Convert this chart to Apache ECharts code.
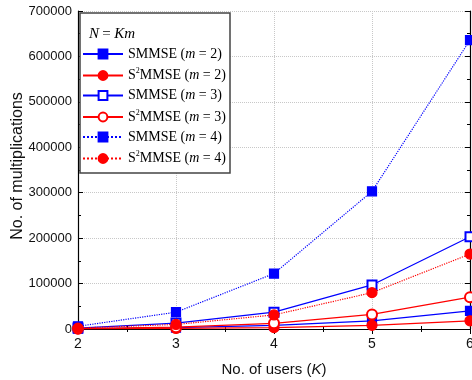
<!DOCTYPE html>
<html>
<head>
<meta charset="utf-8">
<script src="https://cdn.jsdelivr.net/npm/echarts@6/dist/echarts.min.js"></script>
<style>
  html, body { margin: 0; padding: 0; background: #fff; }
  #chart { width: 472px; height: 380px; }
</style>
</head>
<body>
<div id="chart"></div>
<script>
const users = [2, 3, 4, 5, 6];
const smmseM2 = [600, 3000, 8000, 18000, 40000];
const s2mmseM2 = [300, 1200, 3000, 8000, 18000];
const smmseM3 = [2000, 13000, 37000, 97000, 203000];
const s2mmseM3 = [800, 4000, 12500, 32000, 70000];
const smmseM4 = [6000, 37000, 122000, 303000, 636000];
const s2mmseM4 = [2000, 10000, 31000, 80000, 165000];

const chart = echarts.init(document.getElementById('chart'));

function pairs(ys) {
  return users.map((x, i) => [x, ys[i]]);
}

const legendLabels = {
  'SMMSE (m = 2)': '{n|SMMSE (}{i|m}{n| = 2)}',
  'S2MMSE (m = 2)': '{n|S}{s|2}{n|MMSE (}{i|m}{n| = 2)}',
  'SMMSE (m = 3)': '{n|SMMSE (}{i|m}{n| = 3)}',
  'S2MMSE (m = 3)': '{n|S}{s|2}{n|MMSE (}{i|m}{n| = 3)}',
  'SMMSE (m = 4)': '{n|SMMSE (}{i|m}{n| = 4)}',
  'S2MMSE (m = 4)': '{n|S}{s|2}{n|MMSE (}{i|m}{n| = 4)}'
};

function line(name, ys, color, symbol, dotted) {
  return {
    name: name,
    type: 'line',
    data: pairs(ys),
    symbol: symbol,
    symbolSize: symbol.indexOf('ircle') >= 0 ? 10 : 9,
    itemStyle: { color: color, borderColor: color, borderWidth: 1.2 },
    lineStyle: { color: color, width: 1.2, type: dotted ? 'dotted' : 'solid' },
    emphasis: { disabled: true },
    z: 3
  };
}

const option = {
  backgroundColor: '#fff',
  animation: false,
  grid: { left: 78, right: 2, top: 11, bottom: 51, outerBoundsMode: 'none', containLabel: false },
  xAxis: [{
    type: 'value',
    min: 2,
    max: 6,
    interval: 1,
    name: '{a|No. of users (}{b|K}{a|)}',
    nameLocation: 'middle',
    nameGap: 33,
    nameTextStyle: {
      rich: {
        a: { fontFamily: 'Liberation Sans', fontSize: 15, color: '#111' },
        b: { fontFamily: 'Liberation Sans', fontSize: 15, fontStyle: 'italic', color: '#111' }
      }
    },
    axisLine: { lineStyle: { color: '#000', width: 1.2 } },
    axisTick: { inside: true, length: 5, lineStyle: { color: '#000' } },
    minorTick: { show: true, splitNumber: 2, length: 3, lineStyle: { color: '#000' } },
    axisLabel: { fontFamily: 'Liberation Sans', fontSize: 14, color: '#111', margin: 8 },
    splitLine: { show: true, lineStyle: { color: '#c8c8c8', type: 'dotted' } }
  }, {
    type: 'value',
    position: 'top',
    min: 2,
    max: 6,
    interval: 1,
    axisLine: { show: true, lineStyle: { color: '#000', width: 1.2 } },
    axisTick: { inside: true, length: 5, lineStyle: { color: '#000' } },
    minorTick: { show: true, splitNumber: 2, length: 3, lineStyle: { color: '#000' } },
    axisLabel: { show: false },
    splitLine: { show: false }
  }],
  yAxis: [{
    type: 'value',
    min: 0,
    max: 700000,
    interval: 100000,
    axisLine: { show: true, lineStyle: { color: '#000', width: 1.2 } },
    axisTick: { inside: true, length: 5, lineStyle: { color: '#000' } },
    minorTick: { show: true, splitNumber: 2, length: 3, lineStyle: { color: '#000' } },
    axisLabel: { fontFamily: 'Liberation Sans', fontSize: 13, color: '#111', margin: 6, formatter: v => String(v) },
    splitLine: { show: true, lineStyle: { color: '#c8c8c8', type: 'dotted' } }
  }, {
    type: 'value',
    position: 'right',
    min: 0,
    max: 700000,
    interval: 100000,
    axisLine: { show: true, lineStyle: { color: '#000', width: 1.2 } },
    axisTick: { inside: true, length: 5, lineStyle: { color: '#000' } },
    minorTick: { show: true, splitNumber: 2, length: 3, lineStyle: { color: '#000' } },
    axisLabel: { show: false },
    splitLine: { show: false }
  }],
  legend: {
    z: 20,
    orient: 'vertical',
    left: 82,
    top: 47,
    padding: 0,
    itemWidth: 40,
    itemHeight: 11,
    itemGap: 6,
    selectedMode: false,
    data: Object.keys(legendLabels),
    formatter: name => legendLabels[name],
    textStyle: {
      rich: {
        n: { fontFamily: 'Liberation Serif', fontSize: 14, lineHeight: 17, color: '#000' },
        i: { fontFamily: 'Liberation Serif', fontSize: 14, lineHeight: 17, fontStyle: 'italic', color: '#000' },
        s: { fontFamily: 'Liberation Serif', fontSize: 8, lineHeight: 17, color: '#000', verticalAlign: 'top', padding: [0, 0, 6, 0] }
      }
    }
  },
  graphic: [{
    type: 'text',
    x: 18,
    y: 166,
    rotation: Math.PI / 2,
    style: {
      text: 'No. of multiplications',
      fontFamily: 'Liberation Sans',
      fontSize: 16,
      fill: '#111',
      align: 'center',
      verticalAlign: 'middle'
    },
    silent: true
  }, {
    type: 'rect',
    shape: { x: 80, y: 13, width: 150, height: 160 },
    style: { fill: '#fff', stroke: '#444', lineWidth: 1.5 },
    z: 5,
    silent: true
  }, {
    type: 'text',
    left: 89,
    top: 27,
    style: {
      text: '{i|N} {n|=} {i|Km}',
      rich: {
        n: { fontFamily: 'Liberation Serif', fontSize: 15, fill: '#000' },
        i: { fontFamily: 'Liberation Serif', fontSize: 15, fontStyle: 'italic', fill: '#000' }
      }
    },
    z: 6
  }],
  series: [
    line('SMMSE (m = 2)', smmseM2, '#0000ff', 'rect', false),
    line('S2MMSE (m = 2)', s2mmseM2, '#ff0000', 'circle', false),
    line('SMMSE (m = 3)', smmseM3, '#0000ff', 'emptyRect', false),
    line('S2MMSE (m = 3)', s2mmseM3, '#ff0000', 'emptyCircle', false),
    line('SMMSE (m = 4)', smmseM4, '#0000ff', 'rect', true),
    line('S2MMSE (m = 4)', s2mmseM4, '#ff0000', 'circle', true)
  ]
};

chart.setOption(option);
</script>
</body>
</html>
